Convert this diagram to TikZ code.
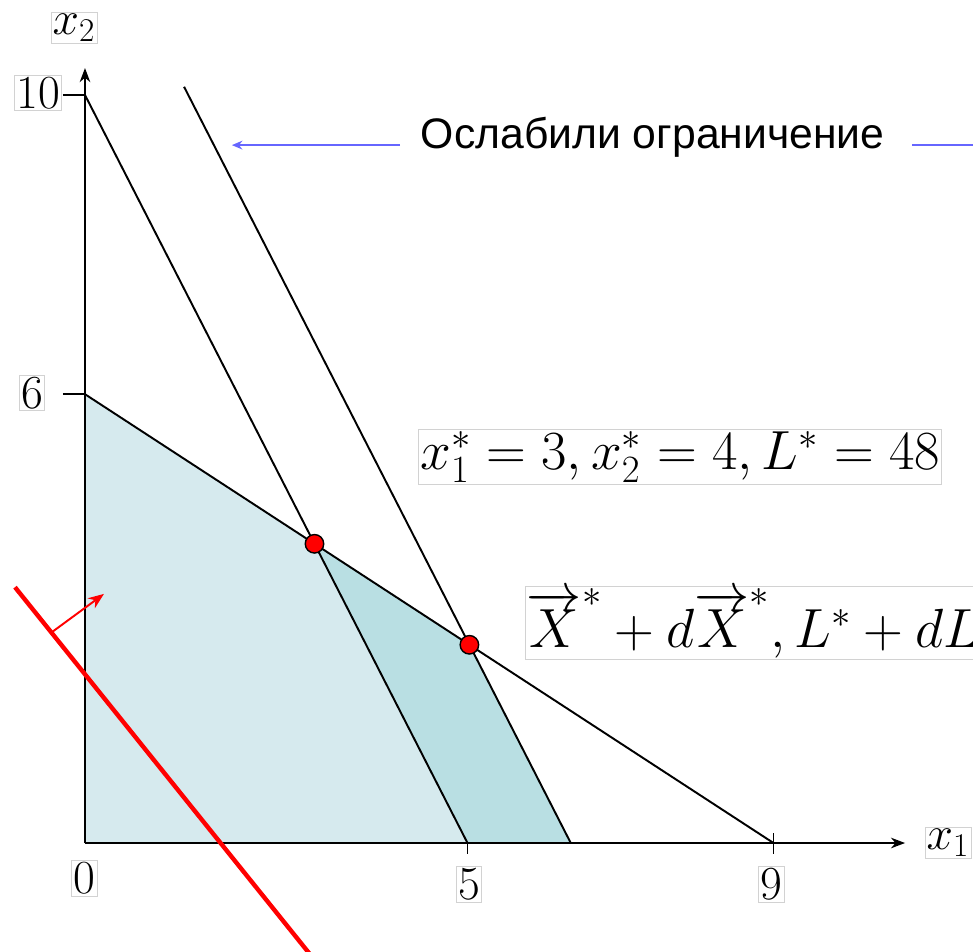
\RequirePackage{fix-cm}
\documentclass[tikz,border=0pt]{standalone}
\usepackage{fontspec}
\newfontfamily\rufont{Liberation Sans}
\usetikzlibrary{arrows.meta}
\definecolor{feasA}{HTML}{D6EAEE}
\definecolor{feasB}{HTML}{B9DFE3}
\definecolor{hintblue}{HTML}{6666FF}

\begin{document}
\begin{tikzpicture}[x=1.53cm,y=1.496cm,
    lbl/.style={draw=gray!35,line width=0.4pt,inner sep=1pt},
    num/.style={lbl,font=\fontsize{27}{30}\selectfont},
    frm/.style={lbl,font=\fontsize{31.4}{35}\selectfont},
    lim/.style={line width=1.1pt},
    axis/.style={line width=0.9pt,-{Stealth[length=8pt,width=6pt,inset=2.5pt]}},
    opt/.style={circle,draw=black,line width=0.8pt,fill=red,inner sep=0pt,minimum size=0.37cm}]
  \useasboundingbox (-1.111,-1.457) rectangle (11.608,11.27);

  % corner points
  \coordinate (O) at (0,0);
  \coordinate (A) at (0,6);
  \coordinate (B) at (0,10);
  \coordinate (C) at (5,0);
  \coordinate (D) at (9,0);
  \coordinate (Q) at (6.35,0);
  \coordinate (T) at (1.295,10.11);

  % feasible sets
  \fill[feasA] (O) -- (A) -- (3,4) -- (C) -- cycle;
  \fill[feasB] (3,4) -- (5.025,2.65) -- (Q) -- (C) -- cycle;

  % axes
  \draw[axis] (O) -- (10.72,0) coordinate (xe);
  \draw[axis] (O) -- (0,10.36) coordinate (ye);
  \draw[lim] (O) -- (A);
  \draw[lim] (-0.29,10) -- (B);
  \draw[lim] (-0.29,6) -- (A);
  \draw[lim] (5,0) -- (5,-0.15);
  \draw[lim] (9,0.13) -- (9,-0.15);

  \node[lbl,font=\fontsize{27}{30}\selectfont] (lx2) at (-0.144,10.9) {$x_2$};
  \node[lbl,font=\fontsize{27}{30}\selectfont] (lx1) at (11.28,0) {$x_1$};
  \node[num] (n10) at (-0.614,10.03) {10};
  \node[num] (n6) at (-0.693,6.02) {6};
  \node[num] (n0) at (-0.01,-0.47) {0};
  \node[num] (n5) at (5.02,-0.55) {5};
  \node[num] (n9) at (8.97,-0.55) {9};

  % constraints
  \draw[lim] (B) -- (C);
  \draw[lim] (A) -- (D);
  \draw[lim] (T) -- (Q);

  % objective
  \draw[red,line width=2.5pt] (-0.915,3.42) -- (2.99,-1.55);
  \draw[red,line width=1.1pt,-{Stealth[length=9pt,width=7pt]}] (-0.431,2.82) -- (0.248,3.33);

  % optima
  \node[opt] (P1) at (3,4) {};
  \node[opt] (P2) at (5.025,2.65) {};

  \node[frm] (s1) at (7.78,5.16) {$x_1^*=3, x_2^*=4, L^*=48$};
  \node[frm,anchor=west] (s2) at (5.75,2.94) {$\overrightarrow{X}^*+d\overrightarrow{X}^*, L^*+dL^*$};

  % hint
  \node[font=\rufont\fontsize{24.3}{29}\selectfont] (hint) at (7.42,9.43) {Ослабили ограничение};
  \coordinate (hA) at (4.12,9.33);
  \coordinate (hB) at (1.92,9.33);
  \coordinate (hC) at (10.81,9.33);
  \coordinate (hD) at (11.7,9.33);
  \draw[hintblue,line width=0.9pt,-{Stealth[length=6pt,width=5pt]}] (hA) -- (hB);
  \draw[hintblue,line width=0.9pt] (hC) -- (hD);
\end{tikzpicture}
\end{document}
